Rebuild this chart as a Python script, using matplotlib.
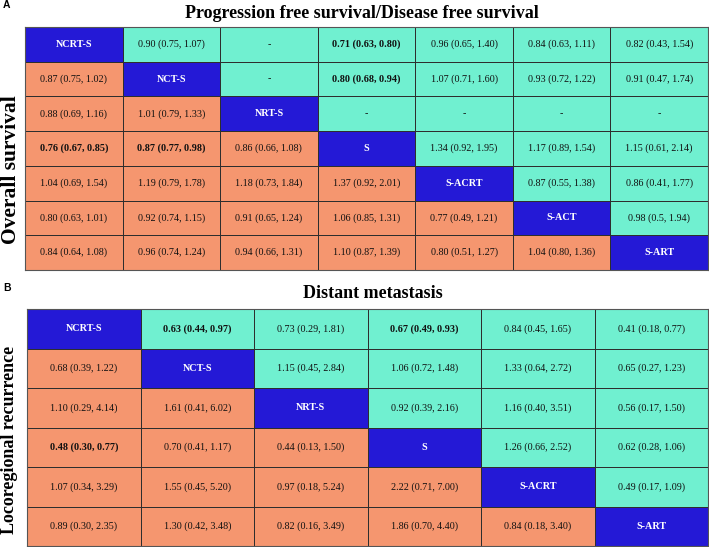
import matplotlib
matplotlib.use("Agg")
import matplotlib.pyplot as plt
import numpy as np
from matplotlib.colors import ListedColormap

# ---------------- data ----------------
treat_A = ["NCRT-S", "NCT-S", "NRT-S", "S", "S-ACRT", "S-ACT", "S-ART"]
# upper triangle: Progression free survival / Disease free survival (row i, columns i+1..)
pfs_upper = [
    ["0.90 (0.75, 1.07)", "-", "0.71 (0.63, 0.80)", "0.96 (0.65, 1.40)", "0.84 (0.63, 1.11)", "0.82 (0.43, 1.54)"],
    ["-", "0.80 (0.68, 0.94)", "1.07 (0.71, 1.60)", "0.93 (0.72, 1.22)", "0.91 (0.47, 1.74)"],
    ["-", "-", "-", "-"],
    ["1.34 (0.92, 1.95)", "1.17 (0.89, 1.54)", "1.15 (0.61, 2.14)"],
    ["0.87 (0.55, 1.38)", "0.86 (0.41, 1.77)"],
    ["0.98 (0.5, 1.94)"],
    [],
]
# lower triangle: Overall survival (row i, columns 0..i-1)
os_lower = [
    [],
    ["0.87 (0.75, 1.02)"],
    ["0.88 (0.69, 1.16)", "1.01 (0.79, 1.33)"],
    ["0.76 (0.67, 0.85)", "0.87 (0.77, 0.98)", "0.86 (0.66, 1.08)"],
    ["1.04 (0.69, 1.54)", "1.19 (0.79, 1.78)", "1.18 (0.73, 1.84)", "1.37 (0.92, 2.01)"],
    ["0.80 (0.63, 1.01)", "0.92 (0.74, 1.15)", "0.91 (0.65, 1.24)", "1.06 (0.85, 1.31)", "0.77 (0.49, 1.21)"],
    ["0.84 (0.64, 1.08)", "0.96 (0.74, 1.24)", "0.94 (0.66, 1.31)", "1.10 (0.87, 1.39)", "0.80 (0.51, 1.27)", "1.04 (0.80, 1.36)"],
]
bold_A = ["0.71 (0.63, 0.80)", "0.80 (0.68, 0.94)", "0.76 (0.67, 0.85)", "0.87 (0.77, 0.98)"]

treat_B = ["NCRT-S", "NCT-S", "NRT-S", "S", "S-ACRT", "S-ART"]
# upper triangle: Distant metastasis
dm_upper = [
    ["0.63 (0.44, 0.97)", "0.73 (0.29, 1.81)", "0.67 (0.49, 0.93)", "0.84 (0.45, 1.65)", "0.41 (0.18, 0.77)"],
    ["1.15 (0.45, 2.84)", "1.06 (0.72, 1.48)", "1.33 (0.64, 2.72)", "0.65 (0.27, 1.23)"],
    ["0.92 (0.39, 2.16)", "1.16 (0.40, 3.51)", "0.56 (0.17, 1.50)"],
    ["1.26 (0.66, 2.52)", "0.62 (0.28, 1.06)"],
    ["0.49 (0.17, 1.09)"],
    [],
]
# lower triangle: Locoregional recurrence
lrr_lower = [
    [],
    ["0.68 (0.39, 1.22)"],
    ["1.10 (0.29, 4.14)", "1.61 (0.41, 6.02)"],
    ["0.48 (0.30, 0.77)", "0.70 (0.41, 1.17)", "0.44 (0.13, 1.50)"],
    ["1.07 (0.34, 3.29)", "1.55 (0.45, 5.20)", "0.97 (0.18, 5.24)", "2.22 (0.71, 7.00)"],
    ["0.89 (0.30, 2.35)", "1.30 (0.42, 3.48)", "0.82 (0.16, 3.49)", "1.86 (0.70, 4.40)", "0.84 (0.18, 3.40)"],
]
bold_B = ["0.63 (0.44, 0.97)", "0.67 (0.49, 0.93)", "0.48 (0.30, 0.77)"]

title_A = "Progression free survival/Disease free survival"
ylabel_A = "Overall survival"
title_B = "Distant metastasis"
ylabel_B = "Locoregional recurrence"

# ---------------- style ----------------
C_DIAG = "#2419D6"
C_UPPER = "#70F0D0"
C_LOWER = "#F5966F"
EDGE = "#2e2e2e"
SERIF = ["Liberation Serif", "DejaVu Serif"]

W, H = 709, 547
fig = plt.figure(figsize=(W / 100, H / 100), dpi=100)


def draw_panel(rect, treats, upper, lower, bold, title, title_xy, ylabel, ylabel_xy,
               ylabel_size, letter, letter_y):
    n = len(treats)
    ax = fig.add_axes(rect)
    cat = np.zeros((n, n), dtype=int)
    for i in range(n):
        for j in range(n):
            cat[i, j] = 0 if i == j else (1 if j > i else 2)
    cmap = ListedColormap([C_DIAG, C_UPPER, C_LOWER])
    ax.pcolormesh(np.arange(n + 1), np.arange(n + 1), cat, cmap=cmap, vmin=-0.5, vmax=2.5,
                  edgecolors=EDGE, linewidth=0.6)
    ax.set_xlim(0, n)
    ax.set_ylim(n, 0)
    ax.set_xticks([])
    ax.set_yticks([])
    for s in ax.spines.values():
        s.set_color("#555555")
        s.set_linewidth(0.8)
    for i in range(n):
        ax.text(i + 0.5, i + 0.5, treats[i], ha="center", va="center", color="white",
                fontsize=7.3, fontweight="bold", family=SERIF)
        for k, s in enumerate(upper[i]):
            j = i + 1 + k
            ax.text(j + 0.5, i + 0.5, s, ha="center", va="center", color="#111111",
                    fontsize=7.3, fontweight="bold" if s in bold else "normal", family=SERIF)
        for j, s in enumerate(lower[i]):
            ax.text(j + 0.5, i + 0.5, s, ha="center", va="center", color="#111111",
                    fontsize=7.3, fontweight="bold" if s in bold else "normal", family=SERIF)
    fig.text(title_xy[0] / W, 1 - title_xy[1] / H, title, ha="center", va="center",
             fontsize=13, fontweight="bold", family=SERIF)
    fig.text(ylabel_xy[0] / W, 1 - ylabel_xy[1] / H, ylabel, ha="left", va="center",
             rotation=90, fontsize=ylabel_size, fontweight="bold", family=SERIF)
    fig.text(3 / W, 1 - letter_y / H, letter, ha="left", va="center", fontsize=7.5,
             fontweight="bold", family=["Liberation Sans", "DejaVu Sans"])
    return ax


def rect_px(l, t, r, b):
    return [l / W, 1 - b / H, (r - l) / W, (b - t) / H]


draw_panel(rect_px(25, 27, 708, 270), treat_A, pfs_upper, os_lower, bold_A,
           title_A, (362, 13), ylabel_A, (0.5, 170), 15.5, "A", 5)
draw_panel(rect_px(27, 309, 708, 546), treat_B, dm_upper, lrr_lower, bold_B,
           title_B, (373, 294), ylabel_B, (1, 440), 13, "B", 288)

fig.savefig("out.png", dpi=100)
